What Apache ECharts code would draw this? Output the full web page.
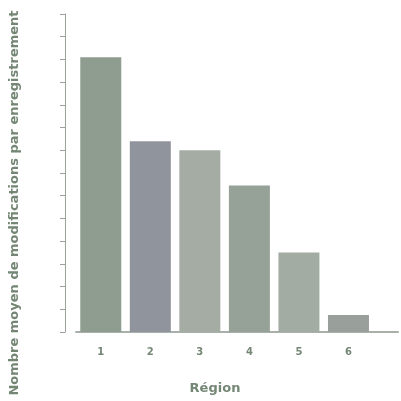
<!DOCTYPE html>
<html>
<head>
<meta charset="utf-8">
<script src="https://cdn.jsdelivr.net/npm/echarts@6/dist/echarts.min.js"></script>
<style>
  html, body { margin: 0; padding: 0; background: #ffffff; }
  #chart { width: 401px; height: 401px; }
</style>
</head>
<body>
<div id="chart"></div>
<script>
// Régions et nombre moyen de modifications par enregistrement
const regions = ['1', '2', '3', '4', '5', '6'];
const meanEdits = [12.1, 8.4, 8.0, 6.45, 3.5, 0.75];

// Teintes des barres (gris-vert, la deuxième légèrement bleutée)
const barColors = ['#8f9d90', '#90949c', '#a4aca4', '#96a197', '#a2aca2', '#999f9a'];

const chart = echarts.init(document.getElementById('chart'), null, { renderer: 'canvas' });

const textColor = '#748674';
const fontFamily = '"DejaVu Sans", sans-serif';

chart.setOption({
  animation: false,
  backgroundColor: '#ffffff',
  grid: { left: 75, right: 1, top: 14, bottom: 69 },
  xAxis: {
    type: 'value',
    min: 0,
    max: 6.5,
    interval: 0.5,
    splitLine: { show: false },
    axisTick: { show: false },
    axisLine: { show: true, onZero: false, lineStyle: { color: '#a9b0a9', width: 2 } },
    axisLabel: {
      margin: 15,
      color: textColor,
      fontFamily: fontFamily,
      fontWeight: 'bold',
      fontSize: 10,
      formatter: function (v) {
        const k = v - 0.5;
        return Number.isInteger(k) && k >= 0 && k < regions.length ? regions[k] : '';
      }
    },
    name: 'Région',
    nameLocation: 'middle',
    nameGap: 50,
    nameTextStyle: {
      color: textColor,
      fontFamily: fontFamily,
      fontWeight: 'bold',
      fontSize: 13,
      padding: [0, 0, 0, -44]
    }
  },
  yAxis: {
    type: 'value',
    min: 0,
    max: 14,
    interval: 1,
    offset: 11,
    splitLine: { show: false },
    axisLine: { show: true, onZero: false, lineStyle: { color: '#9aa39a', width: 1 } },
    axisTick: { show: true, inside: false, length: 5, lineStyle: { color: '#9aa39a' } },
    axisLabel: { show: false },
    name: 'Nombre moyen de modifications par enregistrement',
    nameLocation: 'middle',
    nameRotate: 90,
    nameGap: 44,
    nameTextStyle: {
      color: textColor,
      fontFamily: fontFamily,
      fontWeight: 'bold',
      fontSize: 13,
      padding: [0, 60, 0, 0]
    }
  },
  series: [{
    type: 'bar',
    barWidth: 41,
    data: meanEdits.map(function (v, i) {
      return {
        value: [i + 0.5, v],
        itemStyle: { color: barColors[i] }
      };
    })
  }]
});
</script>
</body>
</html>
